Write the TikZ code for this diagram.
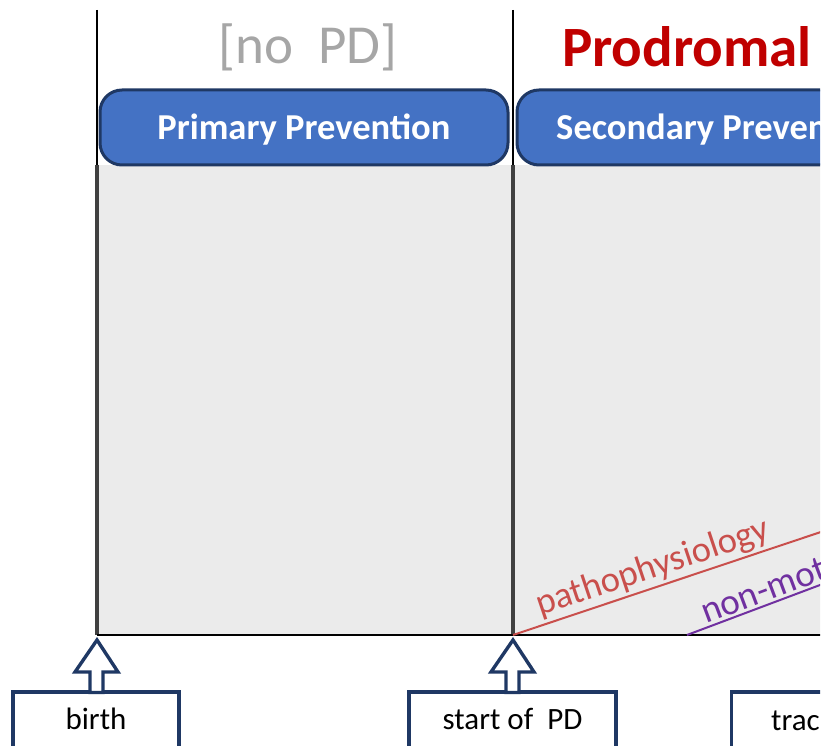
\documentclass[tikz,border=0pt]{standalone}
\usepackage{fontspec}
\setmainfont{Carlito}
\usetikzlibrary{calc}
\definecolor{boxblue}{HTML}{4472C4}
\definecolor{boxedge}{HTML}{1F3864}
\definecolor{prodred}{HTML}{C00000}
\definecolor{pathred}{HTML}{C94F4C}
\definecolor{nmpurple}{HTML}{7030A0}
\definecolor{panelgray}{HTML}{EBEBEB}
\definecolor{darkline}{HTML}{404040}
\definecolor{nopdgray}{HTML}{A6A6A6}
\begin{document}
\begin{tikzpicture}[x=1pt,y=-1pt,
  phasebox/.style={draw=boxedge,line width=3pt,fill=boxblue,rounded corners=22pt,
    text=white,font=\fontsize{36.5}{40}\selectfont\bfseries,minimum height=75pt,inner sep=0pt},
  eventbox/.style={draw=boxedge,line width=3.4pt,fill=white,minimum height=80pt,
    font=\fontsize{31}{36}\selectfont,inner sep=0pt},
  blockarrow/.style={draw=boxedge,line width=3.4pt,fill=white,line join=miter}]
\useasboundingbox (0,0) rectangle (823,746);
\clip (0,0) rectangle (820,746);
% panel
\fill[panelgray] (97,165) rectangle (830,635);
\coordinate (b0) at (97,635);
\coordinate (b1) at (513,635);
\coordinate (t0) at (97,10);
\coordinate (t1) at (513,10);
\coordinate (m0) at (97,165);
\coordinate (m1) at (513,165);
\coordinate (axend) at (830,635);
\draw[line width=1.3pt] (t0) -- (m0);
\draw[line width=1.3pt] (t1) -- (m1);
\draw[darkline,line width=3.6pt] (m0) -- (b0);
\draw[darkline,line width=3.6pt] (m1) -- (b1);
\draw[line width=1.8pt] (b0) -- (axend);
% phase titles
\node[text=nopdgray,font=\fontsize{55}{60}\selectfont] (nopd) at (308,47) {[no\ \ PD]};
\node[text=prodred,font=\fontsize{57}{64}\selectfont\bfseries] (prod) at (687,47) {Prodromal};
% phase boxes
\node[phasebox,minimum width=408pt] (prim) at (304,127.5) {\raisebox{-12pt}[0pt][0pt]{Primary Prevention}};
\node[phasebox,minimum width=410pt] (sec) at (722,127.5) {\raisebox{-12pt}[0pt][0pt]{Secondary Prevention}};
% trajectories
\coordinate (pstart) at (513,635);
\coordinate (pend) at ($(pstart)+(-18.5:420)$);
\draw[pathred,line width=2pt] (pstart) -- (pend);
\node[text=pathred,font=\fontsize{36.5}{40}\selectfont,rotate=18.5,anchor=south,inner sep=3pt]
  (pathlbl) at ($(pstart)+(-18.5:154)$) {pathophysiology};
\coordinate (nstart) at (687,635);
\coordinate (nend) at ($(nstart)+(-20.6:300)$);
\draw[nmpurple,line width=2pt] (nstart) -- (nend);
\node[text=nmpurple,font=\fontsize{37}{40}\selectfont,rotate=20.6,anchor=south west,inner sep=3pt]
  (nmlbl) at ($(nstart)+(-20.6:19)$) {non-motor};
% event boxes
\node[eventbox,minimum width=166pt] (birth) at (96,732) {\raisebox{3pt}[0pt][0pt]{birth}};
\node[eventbox,minimum width=207pt] (start) at (512.5,732) {\raisebox{3pt}[0pt][0pt]{start of\ \ PD}};
\node[eventbox,minimum width=200pt,anchor=west] (trac) at (730,732) {};
\node[font=\fontsize{31}{36}\selectfont,anchor=west,inner sep=0pt] (traclbl) at (771,721) {trac};
% block arrows
\foreach \b/\x in {birth/97,start/513}{
  \draw[blockarrow] (\x,640) -- (\x+21,672) -- (\x+6,672) -- (\x+6,692.5)
     -- (\x-7,692.5) -- (\x-7,672) -- (\x-22,672) -- cycle;
}
\end{tikzpicture}
\end{document}
